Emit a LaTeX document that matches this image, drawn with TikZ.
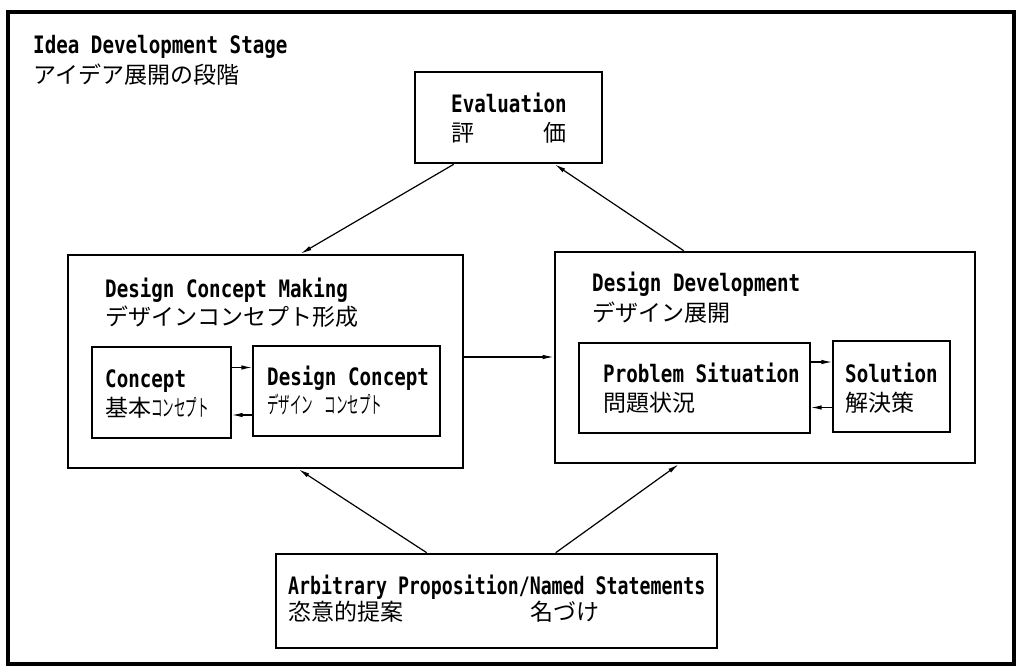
\documentclass[tikz,border=0pt]{standalone}
\usepackage{fontspec}
\usetikzlibrary{arrows.meta,calc}
\newfontfamily\latfont[FakeStretch=0.8]{DejaVu Sans Mono}
\newfontfamily\latnarrow[FakeStretch=0.76]{DejaVu Sans Mono}
\newfontfamily\jpfont{Noto Sans CJK JP}
\newfontfamily\jphalf[FakeStretch=0.5]{Noto Sans CJK JP}
\tikzset{
    bigbox/.style={draw,line width=2.6pt,minimum width=#1},
    smallbox/.style={draw,line width=1.3pt,minimum width=#1},
    lat/.style={font=\latfont\bfseries\fontsize{24}{29}\selectfont,inner sep=0,anchor=base west},
    jp/.style={font=\jpfont\fontsize{23}{29}\selectfont,inner sep=0,anchor=base west},
    arr/.style={line width=1.2pt,-{Latex[length=11pt,width=4.5pt]}}
}
\begin{document}
\begin{tikzpicture}[x=1pt,y=-1pt]
    \useasboundingbox (0,0) rectangle (1017,669);
    % Frame
    \draw[line width=4pt] (8,12) rectangle (1014,664);
    \node[lat] (stage) at (33,53) {Idea Development Stage};
    \node[jp] (stagejp) at (33,83) {アイデア展開の段階};
    % Boxes
    \node[bigbox=187pt,minimum height=91pt] (eval) at (508.5,117.5) {};
    \node[bigbox=395pt,minimum height=213pt] (dcm) at (265.5,361.5) {};
    \node[bigbox=420pt,minimum height=211pt] (ddev) at (765,357.5) {};
    \node[bigbox=441pt,minimum height=94pt] (arb) at (496.5,601) {};
    \node[smallbox=139pt,minimum height=91pt] (concept) at (161.5,392.5) {};
    \node[smallbox=187pt,minimum height=90pt] (dconcept) at (346.5,391) {};
    \node[smallbox=231pt,minimum height=90pt] (problem) at (694.5,388) {};
    \node[smallbox=117pt,minimum height=91pt] (solution) at (891.5,386.5) {};
    % Labels
    \node[lat] (evaltxt) at (451,112) {Evaluation};
    \node[jp] (evaljp) at (451,141) {評　　　価};
    \node[lat] (dcmtxt) at (105,297) {Design Concept Making};
    \node[jp] (dcmjp) at (105,325) {デザインコンセプト形成};
    \node[lat] (concepttxt) at (105,387) {Concept};
    \node[jp] (conceptjp) at (105,416) {基本{\jphalf コンセプト}};
    \node[lat] (dconcepttxt) at (267,385) {Design Concept};
    \node[jp,font=\jphalf\fontsize{23}{29}\selectfont] (dconceptjp) at (267,413) {デザイン　コンセプト};
    \node[lat] (ddevtxt) at (592,291) {Design Development};
    \node[jp] (ddevjp) at (592,321) {デザイン展開};
    \node[lat] (problemtxt) at (603,382) {Problem Situation};
    \node[jp] (problemjp) at (603,411) {問題状況};
    \node[lat] (solutiontxt) at (845,382) {Solution};
    \node[jp] (solutionjp) at (845,411) {解決策};
    \node[lat,font=\latnarrow\bfseries\fontsize{24}{29}\selectfont] (arbtxt) at (288,594) {Arbitrary Proposition/Named Statements};
    \node[jp] (arbjp) at (288,620) {恣意的提案};
    \node[jp] (namedjp) at (530,620) {名づけ};
    % Arrows
    \draw[arr] ($(eval.south west)+(40,0)$) -- ($(dcm.north west)+(234,0)$);
    \draw[arr] ($(ddev.north west)+(130,0)$) -- ($(eval.south west)+(141,0)$);
    \draw[arr] ([yshift=4.5pt]dcm.east) -- ([yshift=4.5pt]dcm.east -| ddev.west);
    \draw[arr] ($(arb.north west)+(152,0)$) -- ($(dcm.south west)+(232,0)$);
    \draw[arr] ($(arb.north west)+(281,0)$) -- ($(ddev.south west)+(125,0)$);
    \draw[arr] ([yshift=25pt]concept.east) -- ([yshift=25pt]concept.east -| dconcept.west);
    \draw[arr] ([yshift=-24pt]dconcept.west) -- ([yshift=-24pt]dconcept.west -| concept.east);
    \draw[arr] ([yshift=26pt]problem.east) -- ([yshift=26pt]problem.east -| solution.west);
    \draw[arr] ([yshift=-21pt]solution.west) -- ([yshift=-21pt]solution.west -| problem.east);
\end{tikzpicture}
\end{document}
